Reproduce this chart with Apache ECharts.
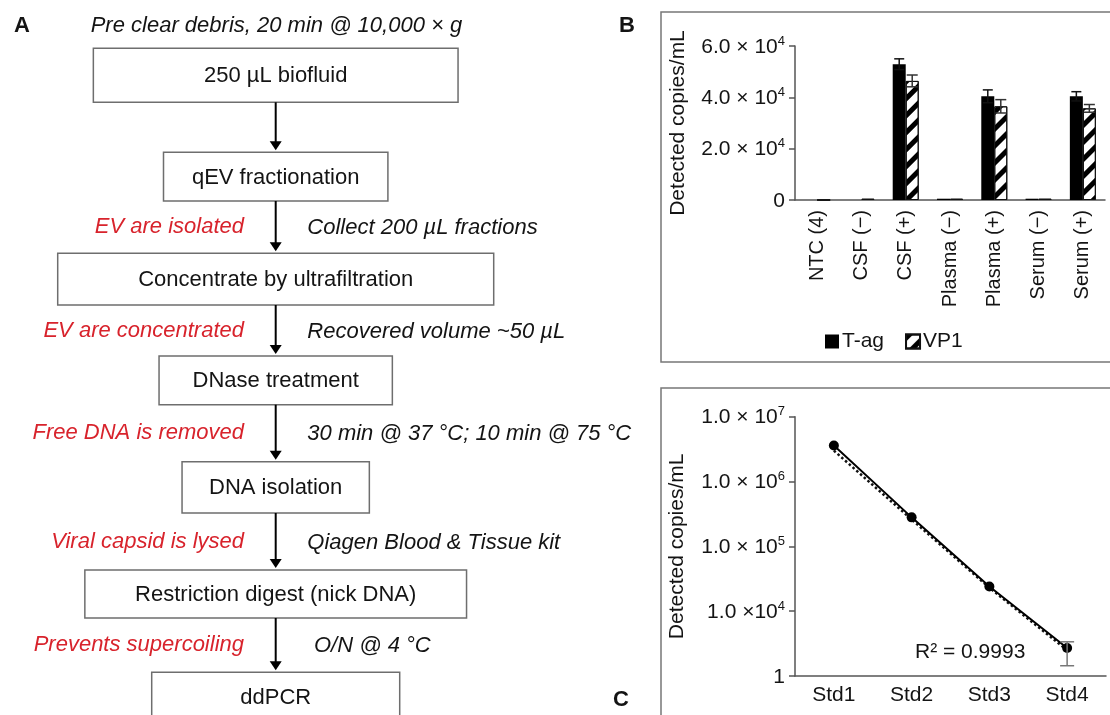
<!DOCTYPE html>
<html><head><meta charset="utf-8">
<script src="https://cdn.jsdelivr.net/npm/echarts@6/dist/echarts.min.js"></script>
<style>html,body{margin:0;padding:0;background:#fff}#c{width:1110px;height:715px}</style>
</head><body><div id="c"></div>
<script>
// ---------- Panel A data (flowchart text) ----------
const flowHeader = 'Pre clear debris, 20 min @ 10,000 × g';
const flowSteps = ['250 µL biofluid', 'qEV fractionation', 'Concentrate by ultrafiltration', 'DNase treatment', 'DNA isolation', 'Restriction digest (nick DNA)', 'ddPCR'];
// notes beside the arrow that leaves step i
const flowLeftNotes = ['', 'EV are isolated', 'EV are concentrated', 'Free DNA is removed', 'Viral capsid is lysed', 'Prevents supercoiling'];
const flowRightNotes = ['', 'Collect 200 µL fractions', 'Recovered volume ~50 µL', '30 min @ 37 °C; 10 min @ 75 °C', 'Qiagen Blood & Tissue kit', 'O/N @ 4 °C'];

// ---------- Panel B data ----------
const bCategories = ['NTC (4)', 'CSF (−)', 'CSF (+)', 'Plasma (−)', 'Plasma (+)', 'Serum (−)', 'Serum (+)'];
const bTag = [0, 0, 52900, 500, 40400, 500, 40400];
const bTagErr = [0, 0, 2100, 0, 2500, 0, 1800];
const bVp1 = [0, 500, 46400, 500, 36500, 500, 35700];
const bVp1Err = [0, 0, 2300, 0, 2600, 0, 1500];
const bYTicks = [0, 20000, 40000, 60000];
const bYTickLabels = ['0', '2.0 × 10^4', '4.0 × 10^4', '6.0 × 10^4'];

// ---------- Panel C data ----------
const cCategories = ['Std1', 'Std2', 'Std3', 'Std4'];
const cMeasured = [3.6e6, 2.8e5, 2.4e4, 2.7e3];
const cTrend = [3.0e6, 2.6e5, 2.3e4, 2.5e3];
const cErrLow = [null, null, null, 1.44e3];
const cErrHigh = [null, null, null, 3.37e3];
const cYTicks = [1e3, 1e4, 1e5, 1e6, 1e7];
const cYTickLabels = ['1', '1.0 ×10^4', '1.0 × 10^5', '1.0 × 10^6', '1.0 × 10^7'];
const cR2 = 'R² = 0.9993';

// ---------- layout / style ----------
const FF = "'Liberation Sans', Arial, Helvetica, sans-serif";
const INK = '#141414';
const RED = '#d8232c';
const AXC = '#555';
const flowCX = 275.7;
const flowBoxes = [
  {w: 364.7, top: 48.3, h: 54},
  {w: 224.4, top: 152.3, h: 48.7},
  {w: 436, top: 253.3, h: 51.7},
  {w: 233.3, top: 356, h: 48.7},
  {w: 187.3, top: 461.7, h: 51.3},
  {w: 381.7, top: 570, h: 48},
  {w: 248, top: 672.3, h: 55}
];
const rightNoteX = [0, 307.3, 307.3, 307.3, 307.3, 314];

function supLabel(s) {
  const p = s.split('^');
  return p.length > 1 ? '{m|' + p[0] + '}{s|' + p[1] + '}' : '{m|' + p[0] + '}';
}
const supRich = (fs) => ({
  m: {fontSize: fs, fontFamily: FF, color: INK, verticalAlign: 'bottom', lineHeight: fs + 2},
  s: {fontSize: Math.round(fs * 0.62), fontFamily: FF, color: INK, verticalAlign: 'top', lineHeight: fs + 2}
});

const graphics = [];
// panel borders
graphics.push({type: 'rect', shape: {x: 661, y: 12, width: 470, height: 350}, style: {fill: 'none', stroke: '#777', lineWidth: 1.5}, z: 0});
graphics.push({type: 'rect', shape: {x: 661, y: 388, width: 470, height: 360}, style: {fill: 'none', stroke: '#777', lineWidth: 1.5}, z: 0});
// panel letters
[['A', 14, 25.5], ['B', 619, 26], ['C', 613, 700]].forEach(([t, x, y]) => {
  graphics.push({type: 'text', style: {text: t, x: x, y: y, font: 'bold 22px ' + FF, fill: INK, align: 'left', verticalAlign: 'middle', textAlign: 'left', textVerticalAlign: 'middle'}});
});
// header
graphics.push({type: 'text', style: {text: flowHeader, x: 90.7, y: 26, font: 'italic 22px ' + FF, fill: INK, align: 'left', verticalAlign: 'middle', textAlign: 'left', textVerticalAlign: 'middle'}});
// boxes
flowSteps.forEach((s, i) => {
  const b = flowBoxes[i];
  graphics.push({type: 'rect', shape: {x: flowCX - b.w / 2, y: b.top, width: b.w, height: b.h}, style: {fill: '#fff', stroke: '#6e6e6e', lineWidth: 1.5}});
  const ty = i === flowSteps.length - 1 ? b.top + 26 : b.top + b.h / 2 + 1;
  graphics.push({type: 'text', style: {text: s, x: flowCX, y: ty, font: '22px ' + FF, fill: INK, align: 'center', verticalAlign: 'middle', textAlign: 'center', textVerticalAlign: 'middle'}});
  if (i < flowSteps.length - 1) {
    const y0 = b.top + b.h;
    const tip = flowBoxes[i + 1].top - 2;
    graphics.push({type: 'line', shape: {x1: flowCX, y1: y0, x2: flowCX, y2: tip - 7}, style: {stroke: '#000', lineWidth: 2}});
    graphics.push({type: 'polygon', shape: {points: [[flowCX - 6, tip - 9], [flowCX + 6, tip - 9], [flowCX, tip]]}, style: {fill: '#000'}});
    const my = (y0 + flowBoxes[i + 1].top) / 2;
    if (flowLeftNotes[i]) {
      graphics.push({type: 'text', style: {text: flowLeftNotes[i], x: 244, y: my, font: 'italic 22px ' + FF, fill: RED, align: 'right', verticalAlign: 'middle', textAlign: 'right', textVerticalAlign: 'middle'}});
    }
    if (flowRightNotes[i]) {
      graphics.push({type: 'text', style: {text: flowRightNotes[i], x: rightNoteX[i], y: my + 1, font: 'italic 22px ' + FF, fill: INK, align: 'left', verticalAlign: 'middle', textAlign: 'left', textVerticalAlign: 'middle'}});
    }
  }
});
// R^2 annotation
graphics.push({type: 'text', style: {text: cR2, x: 915, y: 652, font: '21px ' + FF, fill: INK, align: 'left', verticalAlign: 'middle', textAlign: 'left', textVerticalAlign: 'middle'}});

function errRender(offset, hw, color) {
  return function (params, api) {
    const i = api.value(0), v = api.value(1), e = api.value(2);
    if (!e) return;
    const t = api.coord([i, v + e]), b = api.coord([i, v - e]);
    const x = t[0] + offset;
    const st = {stroke: color, lineWidth: 1.5};
    return {type: 'group', children: [
      {type: 'line', shape: {x1: x, y1: t[1], x2: x, y2: b[1]}, style: st},
      {type: 'line', shape: {x1: x - hw, y1: t[1], x2: x + hw, y2: t[1]}, style: st},
      {type: 'line', shape: {x1: x - hw, y1: b[1], x2: x + hw, y2: b[1]}, style: st}
    ]};
  };
}

const chart = echarts.init(document.getElementById('c'), null, {renderer: 'canvas'});
const axisLineStyle = {color: AXC, width: 1.5};
chart.setOption({
  animation: false,
  backgroundColor: '#fff',
  textStyle: {fontFamily: FF},
  grid: [
    {left: 795, top: 46, width: 310, height: 154},
    {left: 795, top: 416.7, width: 311, height: 259.3}
  ],
  legend: {
    data: ['T-ag', 'VP1'], left: 820, top: 326, itemWidth: 14, itemHeight: 14, itemGap: 21,
    icon: 'rect', textStyle: {fontSize: 21, color: INK, fontFamily: FF, padding: [0, 0, 0, -2]}
  },
  xAxis: [
    {type: 'category', gridIndex: 0, data: bCategories,
      axisLine: {lineStyle: axisLineStyle}, axisTick: {length: 6, lineStyle: axisLineStyle},
      axisLabel: {rotate: 90, interval: 0, fontSize: 20, color: INK, margin: 10, fontFamily: FF}},
    {type: 'category', gridIndex: 1, data: cCategories,
      axisLine: {lineStyle: axisLineStyle}, axisTick: {length: 6, lineStyle: axisLineStyle},
      axisLabel: {fontSize: 21, color: INK, margin: 9, fontFamily: FF}}
  ],
  yAxis: [
    {type: 'value', gridIndex: 0, min: 0, max: 60000, interval: 20000,
      axisLine: {show: true, lineStyle: axisLineStyle}, axisTick: {show: true, length: 6, lineStyle: axisLineStyle},
      splitLine: {show: false},
      axisLabel: {margin: 10, formatter: (v) => supLabel(bYTickLabels[bYTicks.indexOf(v)] || ''), rich: supRich(21)},
      name: 'Detected copies/mL', nameLocation: 'middle', nameRotate: 90, nameGap: 106,
      nameTextStyle: {fontSize: 21, color: INK, fontFamily: FF}},
    {type: 'log', gridIndex: 1, logBase: 10, min: 1000, max: 1e7,
      axisLine: {show: true, lineStyle: axisLineStyle}, axisTick: {show: true, length: 6, lineStyle: axisLineStyle},
      splitLine: {show: false}, minorTick: {show: false},
      axisLabel: {margin: 10, rich: supRich(21), formatter: (v) => {
        const k = cYTicks.findIndex(t => Math.abs(Math.log10(t) - Math.log10(v)) < 1e-6);
        return k < 0 ? '' : supLabel(cYTickLabels[k]);
      }},
      name: 'Detected copies/mL', nameLocation: 'middle', nameRotate: 90, nameGap: 107,
      nameTextStyle: {fontSize: 21, color: INK, fontFamily: FF}}
  ],
  series: [
    {name: 'T-ag', type: 'bar', xAxisIndex: 0, yAxisIndex: 0, data: bTag, barWidth: 13, barGap: '0%',
      itemStyle: {color: '#000'}},
    {name: 'VP1', type: 'bar', xAxisIndex: 0, yAxisIndex: 0, data: bVp1, barWidth: 13, barGap: '0%',
      itemStyle: {color: '#fff', borderColor: '#111', borderWidth: 1,
        decal: {symbol: 'rect', symbolSize: 1, dashArrayX: [1, 0], dashArrayY: [4.5, 6.5], rotation: -Math.PI / 4, color: '#000'}}},
    {type: 'custom', xAxisIndex: 0, yAxisIndex: 0, z: 5, silent: true,
      data: bCategories.map((c, i) => [i, bTag[i], bTagErr[i]]),
      renderItem: errRender(-6.5, 5, '#111')},
    {type: 'custom', xAxisIndex: 0, yAxisIndex: 0, z: 5, silent: true,
      data: bCategories.map((c, i) => [i, bVp1[i], bVp1Err[i]]),
      renderItem: errRender(6.5, 5.5, '#333')},
    {name: 'trend', type: 'line', xAxisIndex: 1, yAxisIndex: 1, data: cTrend, symbol: 'none',
      lineStyle: {color: '#111', width: 2.5, type: 'dotted'}, z: 2},
    {name: 'measured', type: 'line', xAxisIndex: 1, yAxisIndex: 1, data: cMeasured, symbol: 'circle', symbolSize: 10,
      itemStyle: {color: '#000'}, lineStyle: {color: '#000', width: 2}, z: 3},
    {type: 'custom', xAxisIndex: 1, yAxisIndex: 1, z: 4, silent: true,
      data: cCategories.map((c, i) => [i, cErrLow[i], cErrHigh[i]]),
      renderItem: function (params, api) {
        const i = api.value(0), lo = api.value(1), hi = api.value(2);
        if (!lo || !hi || isNaN(lo) || isNaN(hi)) return;
        const t = api.coord([i, hi]), b = api.coord([i, lo]);
        const st = {stroke: '#777', lineWidth: 1.5};
        return {type: 'group', children: [
          {type: 'line', shape: {x1: t[0], y1: t[1], x2: t[0], y2: b[1]}, style: st},
          {type: 'line', shape: {x1: t[0] - 7, y1: t[1], x2: t[0] + 7, y2: t[1]}, style: st},
          {type: 'line', shape: {x1: t[0] - 7, y1: b[1], x2: t[0] + 7, y2: b[1]}, style: st}
        ]};
      }}
  ],
  graphic: graphics
});
</script></body></html>
